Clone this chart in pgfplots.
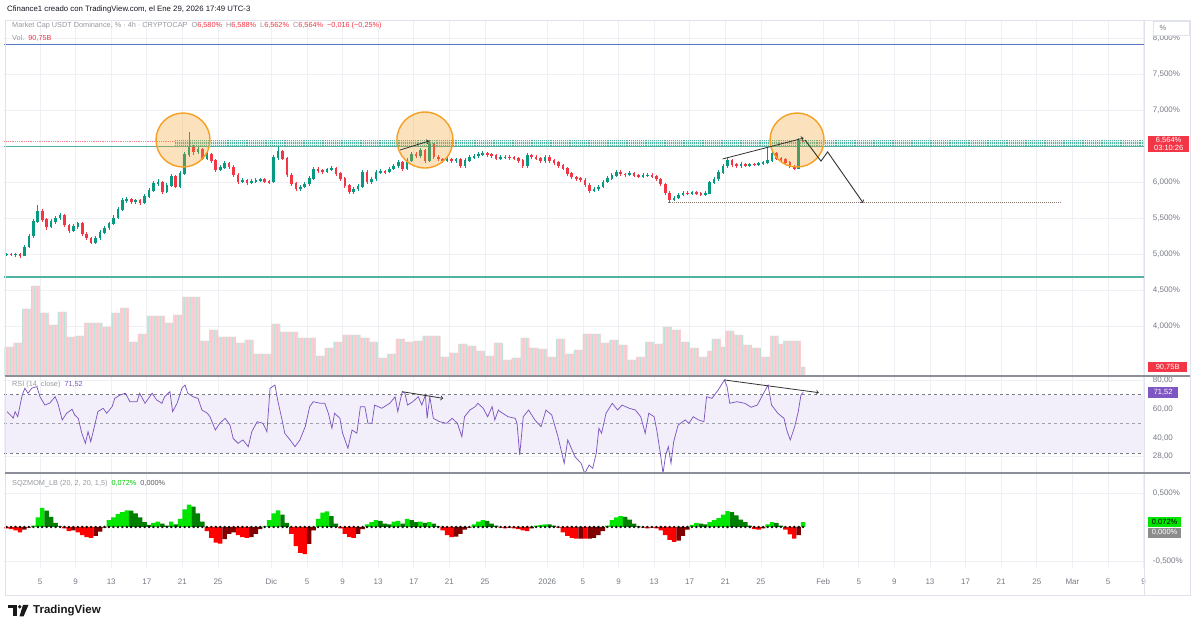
\documentclass[border=0pt]{standalone}
\usepackage{fontspec}
\setmainfont{Liberation Sans}
\usepackage{pgfplots}
\pgfplotsset{compat=1.18}
\usepackage{pgfplotstable}
\usetikzlibrary{patterns.meta}

\definecolor{tvup}{RGB}{8,153,129}
\definecolor{tvdn}{RGB}{242,54,69}
\definecolor{tvgray}{RGB}{120,123,134}
\definecolor{hgray}{RGB}{150,153,160}
\definecolor{gridc}{RGB}{238,240,246}
\definecolor{framec}{RGB}{224,227,235}
\definecolor{rsip}{RGB}{126,87,194}
\definecolor{rsiband}{RGB}{243,239,250}
\definecolor{sqlime}{RGB}{0,230,0}
\definecolor{sqgreen}{RGB}{0,128,0}
\definecolor{sqred}{RGB}{255,0,0}
\definecolor{sqmaroon}{RGB}{128,0,0}
\definecolor{zoneteal}{RGB}{80,178,160}
\definecolor{orng}{RGB}{245,160,35}
\definecolor{volpink}{RGB}{250,206,210}
\definecolor{volteal}{RGB}{188,226,220}
\definecolor{lineblue}{RGB}{91,120,200}
\definecolor{dotbrown}{RGB}{140,120,110}
\definecolor{sepc}{RGB}{140,143,152}

\pgfplotstableread{
t o h l c
0 4.99 5.02 4.97 5.00
0.5 5.00 5.02 4.97 4.99
1.0 4.99 5.02 4.96 5.00
1.5 5.00 5.01 4.95 4.98
2.0 4.98 5.13 4.97 5.10
2.5 5.10 5.28 5.08 5.25
3.0 5.25 5.48 5.22 5.45
3.5 5.45 5.68 5.43 5.60
4.0 5.60 5.62 5.45 5.48
4.5 5.48 5.50 5.34 5.38
5.0 5.38 5.48 5.36 5.45
5.5 5.45 5.53 5.42 5.50
6.0 5.50 5.57 5.47 5.54
6.5 5.54 5.56 5.37 5.40
7.0 5.40 5.42 5.29 5.32
7.5 5.32 5.41 5.30 5.38
8.0 5.38 5.45 5.35 5.42
8.5 5.42 5.44 5.25 5.28
9.0 5.28 5.30 5.19 5.22
9.5 5.22 5.24 5.14 5.16
10.0 5.16 5.25 5.14 5.22
10.5 5.22 5.33 5.20 5.30
11.0 5.30 5.39 5.28 5.36
11.5 5.36 5.45 5.33 5.42
12.0 5.42 5.54 5.40 5.50
12.5 5.50 5.65 5.48 5.62
13.0 5.62 5.78 5.60 5.74
13.5 5.74 5.79 5.71 5.76
14.0 5.76 5.78 5.70 5.73
14.5 5.73 5.77 5.70 5.74
15.0 5.74 5.76 5.68 5.71
15.5 5.71 5.83 5.69 5.80
16.0 5.80 5.91 5.78 5.88
16.5 5.88 6.01 5.86 5.98
17.0 5.98 6.04 5.95 6.00
17.5 6.00 6.02 5.84 5.87
18.0 5.87 5.98 5.85 5.95
18.5 5.95 6.11 5.93 6.08
19.0 6.08 6.10 5.91 5.94
19.5 5.94 6.15 5.92 6.12
20.0 6.12 6.42 6.10 6.38
20.5 6.38 6.69 6.35 6.48
21.0 6.48 6.52 6.38 6.42
21.5 6.42 6.49 6.39 6.45
22.0 6.45 6.47 6.30 6.33
22.5 6.33 6.41 6.31 6.38
23.0 6.38 6.40 6.27 6.30
23.5 6.30 6.32 6.14 6.17
24.0 6.17 6.23 6.15 6.20
24.5 6.20 6.29 6.18 6.26
25.0 6.26 6.28 6.18 6.21
25.5 6.21 6.23 6.07 6.10
26.0 6.10 6.12 5.97 6.00
26.5 6.00 6.05 5.98 6.02
27.0 6.02 6.04 5.96 5.99
27.5 5.99 6.04 5.97 6.01
28.0 6.01 6.05 5.99 6.02
28.5 6.02 6.06 6.00 6.04
29.0 6.04 6.05 5.98 6.01
29.5 6.01 6.03 5.97 6.00
30.0 6.00 6.37 5.99 6.34
30.5 6.34 6.49 6.31 6.42
31.0 6.42 6.44 6.30 6.33
31.5 6.33 6.35 6.07 6.10
32.0 6.10 6.12 5.95 5.98
32.5 5.98 6.00 5.87 5.90
33.0 5.90 5.96 5.88 5.93
33.5 5.93 6.00 5.91 5.97
34.0 5.97 6.08 5.95 6.05
34.5 6.05 6.21 6.03 6.18
35.0 6.18 6.21 6.13 6.16
35.5 6.16 6.18 6.11 6.14
36.0 6.14 6.20 6.12 6.17
36.5 6.17 6.22 6.15 6.19
37.0 6.19 6.21 6.09 6.12
37.5 6.12 6.14 6.02 6.05
38.0 6.05 6.07 5.92 5.95
38.5 5.95 5.97 5.83 5.86
39.0 5.86 5.93 5.84 5.90
39.5 5.90 5.97 5.88 5.94
40.0 5.94 6.17 5.92 6.14
40.5 6.14 6.16 5.97 6.00
41.0 6.00 6.07 5.97 6.04
41.5 6.04 6.16 6.02 6.13
42.0 6.13 6.18 6.11 6.15
42.5 6.15 6.17 6.11 6.14
43.0 6.14 6.21 6.12 6.18
43.5 6.18 6.25 6.16 6.22
44.0 6.22 6.30 6.20 6.27
44.5 6.27 6.29 6.15 6.18
45.0 6.18 6.33 6.16 6.30
45.5 6.30 6.42 6.28 6.39
46.0 6.39 6.41 6.33 6.36
46.5 6.36 6.47 6.34 6.44
47.0 6.44 6.46 6.26 6.30
47.5 6.30 6.58 6.28 6.52
48.0 6.52 6.54 6.32 6.35
48.5 6.35 6.37 6.29 6.32
49.0 6.32 6.34 6.27 6.30
49.5 6.30 6.35 6.28 6.32
50.0 6.32 6.34 6.26 6.29
50.5 6.29 6.34 6.27 6.31
51.0 6.31 6.33 6.19 6.22
51.5 6.22 6.33 6.20 6.30
52.0 6.30 6.37 6.28 6.34
52.5 6.34 6.39 6.32 6.36
53.0 6.36 6.41 6.34 6.38
53.5 6.38 6.43 6.36 6.40
54.0 6.40 6.42 6.35 6.38
54.5 6.38 6.40 6.34 6.37
55.0 6.37 6.39 6.30 6.33
55.5 6.33 6.37 6.31 6.34
56.0 6.34 6.38 6.32 6.35
56.5 6.35 6.37 6.31 6.34
57.0 6.34 6.36 6.30 6.33
57.5 6.33 6.35 6.27 6.30
58.0 6.30 6.32 6.19 6.22
58.5 6.22 6.40 6.20 6.37
59.0 6.37 6.39 6.32 6.35
59.5 6.35 6.37 6.30 6.33
60.0 6.33 6.35 6.26 6.29
60.5 6.29 6.38 6.27 6.35
61.0 6.35 6.37 6.27 6.30
61.5 6.30 6.32 6.24 6.27
62.0 6.27 6.29 6.20 6.23
62.5 6.23 6.25 6.16 6.19
63.0 6.19 6.21 6.09 6.12
63.5 6.12 6.14 6.04 6.07
64.0 6.07 6.09 6.02 6.05
64.5 6.05 6.07 6.00 6.03
65.0 6.03 6.05 5.93 5.96
65.5 5.96 5.98 5.85 5.88
66.0 5.88 5.93 5.86 5.90
66.5 5.90 5.96 5.88 5.93
67.0 5.93 6.03 5.91 6.00
67.5 6.00 6.08 5.98 6.05
68.0 6.05 6.12 6.03 6.09
68.5 6.09 6.17 6.07 6.14
69.0 6.14 6.16 6.08 6.11
69.5 6.11 6.13 6.07 6.10
70.0 6.10 6.15 6.08 6.12
70.5 6.12 6.14 6.07 6.09
71.0 6.09 6.11 6.06 6.08
71.5 6.08 6.12 6.06 6.10
72.0 6.10 6.12 6.07 6.10
72.5 6.10 6.12 6.06 6.08
73.0 6.08 6.10 6.01 6.04
73.5 6.04 6.06 5.94 5.97
74.0 5.97 5.99 5.82 5.85
74.5 5.85 5.87 5.71 5.75
75.0 5.75 5.81 5.73 5.78
75.5 5.78 5.85 5.76 5.82
76.0 5.82 5.88 5.80 5.85
76.5 5.85 5.87 5.82 5.84
77.0 5.84 5.88 5.82 5.86
77.5 5.86 5.87 5.82 5.84
78.0 5.84 5.86 5.81 5.83
78.5 5.83 5.87 5.81 5.84
79.0 5.84 6.02 5.83 5.99
79.5 5.99 6.07 5.97 6.04
80.0 6.04 6.16 6.02 6.13
80.5 6.13 6.25 6.11 6.22
81.0 6.22 6.33 6.20 6.30
81.5 6.30 6.32 6.21 6.24
82.0 6.24 6.26 6.19 6.22
82.5 6.22 6.28 6.20 6.25
83.0 6.25 6.27 6.21 6.23
83.5 6.23 6.27 6.21 6.25
84.0 6.25 6.27 6.22 6.24
84.5 6.24 6.28 6.22 6.26
85.0 6.26 6.29 6.24 6.27
85.5 6.27 6.47 6.25 6.30
86.0 6.30 6.43 6.28 6.40
86.5 6.40 6.42 6.30 6.33
87.0 6.33 6.35 6.28 6.31
87.5 6.31 6.33 6.24 6.27
88.0 6.27 6.29 6.19 6.22
88.5 6.22 6.24 6.16 6.19
89.0 6.19 6.61 6.18 6.580
89.5 6.580 6.588 6.562 6.564
}\candles

\pgfplotstableread{
t v
0 290
1 330
2 670
3 900
4 630
5 510
6 640
7 390
8 400
9 530
10 530
11 490
12 630
13 680
14 340
15 420
16 600
18 530
19 610
20 790
22 350
23 460
24 390
26 330
27 360
28 220
30 520
31 440
33 380
35 200
36 280
37 340
38 410
40 380
41 340
42 180
43 220
44 370
45 340
46 350
47 400
49 190
50 230
51 320
52 300
53 250
54 200
55 330
56 160
57 180
58 380
59 280
60 270
61 190
62 370
63 220
64 260
65 420
67 330
68 360
69 310
70 160
71 190
72 340
73 320
74 490
75 460
76 340
77 280
78 190
79 250
79.5 370
80.5 290
81 450
82 410
83 310
84 280
85 190
86 400
87 320
87.5 350
88.5 350
89.5 90.75
90 90.75
}\vol

\pgfplotstableread{
t v
0.3 58.3
1.0 53.9
1.2 58.3
1.5 54.8
2.0 69.7
2.3 74.3
2.65 70.9
3.1 74.5
3.65 75.4
4.0 68.5
4.55 62.8
5.1 64.2
5.7 68.5
6.0 64.2
6.5 52.6
7.0 57.2
7.6 59.9
7.9 56.0
8.3 53.7
8.7 43.5
9.1 36.6
9.4 44.6
9.7 37.7
10.2 50.3
10.5 58.3
11.1 60.6
11.5 57.2
12.1 61.7
12.4 67.4
13.0 69.7
13.6 70.9
14.1 65.1
14.9 65.1
15.2 70.9
15.8 64.0
16.6 70.9
17.1 66.3
17.7 64.0
18.0 68.5
18.6 72.0
18.9 58.3
19.4 64.0
19.95 74.3
20.3 76.5
20.6 70.9
21.2 68.5
21.75 67.4
22.2 59.4
22.8 57.2
23.1 54.8
23.7 45.7
24.2 50.3
24.8 53.7
25.35 49.1
25.7 40.0
26.25 36.6
26.8 38.9
27.4 34.3
27.8 44.6
28.4 51.4
29.05 50.3
29.5 44.6
29.85 74.3
30.4 76.5
30.7 66.3
31.2 52.6
31.5 43.5
32.1 38.9
32.65 34.3
33.2 38.9
33.8 48.0
34.3 61.7
34.7 65.1
35.5 64.0
36.0 64.0
36.4 57.2
36.8 46.9
37.1 57.2
37.7 53.7
38.0 43.5
38.6 33.2
39.06 45.7
39.6 43.5
40.0 61.7
40.5 61.7
40.85 50.3
41.3 50.3
41.6 62.8
42.4 60.6
43.3 64.0
43.9 68.5
44.2 58.3
44.7 72.0
45.0 70.9
45.3 62.8
45.9 65.1
46.5 68.5
46.9 62.8
47.3 69.7
47.5 53.7
47.8 68.5
48.2 53.7
48.9 51.4
49.7 50.3
50.3 53.7
50.9 50.3
51.4 41.1
51.7 54.8
52.3 59.4
52.9 61.7
53.2 64.0
53.8 60.6
54.3 54.8
54.8 61.7
55.1 52.6
55.5 59.4
55.7 58.3
56.6 54.8
57.4 53.7
57.6 50.3
57.9 28.6
58.3 54.8
58.9 59.4
59.6 52.6
60.3 48.0
60.85 59.4
61.5 56.0
62.2 41.1
62.9 22.9
63.3 38.9
64.1 27.5
64.8 22.9
65.2 16.0
65.7 21.7
66.1 19.5
66.5 29.8
66.8 46.9
67.1 43.5
67.6 57.2
68.3 64.0
68.9 59.4
69.4 62.8
70.2 60.6
70.9 59.4
71.5 54.8
72.0 43.5
72.4 57.2
73.0 54.8
73.3 45.7
73.7 29.8
74.0 16.0
74.3 28.6
74.6 34.3
74.9 22.9
75.2 37.7
75.7 49.1
76.5 52.6
76.9 50.3
77.4 54.8
78.0 52.6
78.6 51.4
78.9 68.5
79.5 67.4
80.2 73.1
80.9 80.0
81.2 75.4
81.5 64.0
82.3 65.1
83.2 64.0
83.9 61.3
84.6 62.8
85.2 69.7
85.8 76.5
86.2 62.8
86.9 57.2
87.6 53.7
87.9 45.7
88.3 38.9
88.8 48.0
89.2 58.3
89.5 69.7
89.75 71.52
}\rsi

\pgfplotstableread{
t v c
0 -0.02 3
0.5 -0.03 3
1.0 -0.05 3
1.5 -0.08 3
2.0 -0.04 4
2.5 -0.01 4
3.0 0.02 1
3.5 0.14 1
4.0 0.28 1
4.5 0.24 2
5.0 0.15 2
5.5 0.06 2
6.0 0.01 2
6.5 -0.02 3
7.0 -0.06 3
7.5 -0.05 4
8.0 -0.08 3
8.5 -0.12 3
9.0 -0.15 3
9.5 -0.16 3
10.0 -0.13 4
10.5 -0.07 4
11.0 -0.01 4
11.5 0.10 1
12.0 0.14 1
12.5 0.19 1
13.0 0.22 1
13.5 0.245 1
14.0 0.24 2
14.5 0.20 2
15.0 0.14 2
15.5 0.07 2
16.0 0.03 2
16.5 0.06 1
17.0 0.08 1
17.5 0.05 2
18.0 0.02 2
18.5 0.08 1
19.0 0.04 2
19.5 0.12 1
20.0 0.26 1
20.5 0.33 1
21.0 0.30 2
21.5 0.20 2
22.0 0.08 2
22.5 -0.06 3
23.0 -0.16 3
23.5 -0.23 3
24.0 -0.245 3
24.5 -0.18 4
25.0 -0.10 4
25.5 -0.08 4
26.0 -0.12 3
26.5 -0.15 3
27.0 -0.16 3
27.5 -0.15 4
28.0 -0.10 4
28.5 -0.03 4
29.0 0.01 1
29.5 0.10 1
30.0 0.20 1
30.5 0.245 1
31.0 0.18 2
31.5 0.06 2
32.0 -0.10 3
32.5 -0.28 3
33.0 -0.38 3
33.5 -0.40 3
34.0 -0.25 4
34.5 -0.05 4
35.0 0.12 1
35.5 0.21 1
36.0 0.23 1
36.5 0.16 2
37.0 0.05 2
37.5 -0.02 3
38.0 -0.10 3
38.5 -0.15 3
39.0 -0.16 3
39.5 -0.10 4
40.0 -0.03 4
40.5 0.04 1
41.0 0.07 1
41.5 0.10 1
42.0 0.09 2
42.5 0.05 2
43.0 0.04 2
43.5 0.08 1
44.0 0.09 1
44.5 0.05 2
45.0 0.12 1
45.5 0.10 2
46.0 0.07 2
46.5 0.08 1
47.0 0.06 2
47.5 0.07 1
48.0 0.05 2
48.5 0.01 2
49.0 -0.05 3
49.5 -0.12 3
50.0 -0.15 3
50.5 -0.14 4
51.0 -0.10 4
51.5 -0.04 4
52.0 -0.01 4
52.5 0.04 1
53.0 0.08 1
53.5 0.10 1
54.0 0.09 2
54.5 0.05 2
55.0 0.02 2
55.5 -0.01 3
56.0 -0.02 3
56.5 -0.01 4
57.0 -0.02 3
57.5 -0.03 3
58.0 -0.05 3
58.5 -0.06 3
59.0 -0.02 4
59.5 0.02 1
60.0 0.03 1
60.5 0.04 1
61.0 0.04 2
61.5 0.02 2
62.0 -0.01 3
62.5 -0.08 3
63.0 -0.13 3
63.5 -0.16 3
64.0 -0.17 3
64.5 -0.17 4
65.0 -0.17 3
65.5 -0.17 4
66.0 -0.16 4
66.5 -0.12 4
67.0 -0.06 4
67.5 0.02 1
68.0 0.10 1
68.5 0.14 1
69.0 0.16 1
69.5 0.15 2
70.0 0.11 2
70.5 0.05 2
71.0 0.01 2
71.5 -0.01 3
72.0 -0.02 3
72.5 -0.01 4
73.0 -0.02 3
73.5 -0.05 3
74.0 -0.12 3
74.5 -0.19 3
75.0 -0.22 3
75.5 -0.20 4
76.0 -0.13 4
76.5 -0.04 4
77.0 0.03 1
77.5 0.06 1
78.0 0.05 2
78.5 0.04 2
79.0 0.07 1
79.5 0.10 1
80.0 0.13 1
80.5 0.18 1
81.0 0.235 1
81.5 0.22 2
82.0 0.17 2
82.5 0.11 2
83.0 0.07 2
83.5 0.02 2
84.0 -0.03 3
84.5 -0.04 3
85.0 -0.02 4
85.5 0.04 1
86.0 0.07 1
86.5 0.06 2
87.0 0.02 2
87.5 -0.04 3
88.0 -0.11 3
88.5 -0.17 3
89.0 -0.12 4
89.5 0.072 1
}\sqz

\tikzset{
  lbl/.style={anchor=west, xshift=3.6pt, inner sep=1.4pt, font=\fontsize{7.5}{8.5}\selectfont, minimum height=10.5pt},
}
\pgfplotsset{
  tvax/.style={
    scale only axis, width=1140pt, xmin=0, xmax=128.0899,
    anchor=south west, axis line style={draw=none},
    major tick length=0pt,
    xtick={4,8,12,16,20,24,30,34,38,42,46,50,54,61,65,69,73,77,81,85,92,96,100,104,108,112,116,120,124,128},
    xmajorgrids,
    major grid style={draw=gridc, line width=0.7pt},
    clip mode=individual,
    /pgf/number format/assume math mode=true,
    ticklabel style={font=\fontsize{8}{9}\selectfont, text=tvgray},
    yticklabel pos=right,
    yticklabel style={anchor=west, xshift=5pt},
    xticklabels={,,},
    scaled y ticks=false,
  },
}

\begin{document}
\begin{tikzpicture}[x=1pt,y=1pt]
\useasboundingbox (0,0) rectangle (1200,631);
\fill[white] (0,0) rectangle (1200,631);

% ---------- main price panel ----------
\begin{axis}[tvax, at={(4.4pt,255pt)}, height=356pt,
  ymin=3.3056, ymax=8.25,
  ytick={4,4.5,5,5.5,6,7,7.5,8}, ymajorgrids,
  yticklabel={\pgfmathprintnumber[fixed,fixed zerofill,precision=3,use comma]{\tick}\%}]
  % horizontal drawings
  \draw[lineblue, line width=1pt] (axis cs:0,7.903) -- (axis cs:128.0899,7.903);
  \draw[zoneteal, line width=1.2pt] (axis cs:0,4.681) -- (axis cs:128.0899,4.681);
  \draw[zoneteal, line width=1.2pt] (axis cs:0,6.49) -- (axis cs:128.0899,6.49);
  \draw[tvdn!60, densely dotted, line width=0.8pt] (axis cs:0,6.564) -- (axis cs:19.2,6.564);
  \fill[zoneteal, opacity=0.18] (axis cs:19.2,6.507) rectangle (axis cs:128.0899,6.576);
  \draw[zoneteal, densely dotted, line width=0.9pt] (axis cs:19.2,6.507) -- (axis cs:128.0899,6.507);
  \draw[zoneteal, densely dotted, line width=0.9pt] (axis cs:19.2,6.530) -- (axis cs:128.0899,6.530);
  \draw[zoneteal, densely dotted, line width=0.9pt] (axis cs:19.2,6.553) -- (axis cs:128.0899,6.553);
  \draw[zoneteal, densely dotted, line width=0.9pt] (axis cs:19.2,6.576) -- (axis cs:128.0899,6.576);
  \draw[dotbrown, densely dotted, line width=1pt] (axis cs:74.6,5.71) -- (axis cs:118.8,5.71);
  % candles: wicks
  \addplot[draw=none, mark=none, forget plot,
    error bars/.cd, y dir=both, y explicit, error mark=none,
    error bar style={draw=tvup, line width=0.7pt}]
    table[x expr={\thisrow{c}>=\thisrow{o} ? \thisrow{t}+0.25 : nan},
          y expr={(\thisrow{h}+\thisrow{l})/2},
          y error expr={(\thisrow{h}-\thisrow{l})/2}] {\candles};
  \addplot[draw=none, mark=none, forget plot,
    error bars/.cd, y dir=both, y explicit, error mark=none,
    error bar style={draw=tvdn, line width=0.7pt}]
    table[x expr={\thisrow{c}<\thisrow{o} ? \thisrow{t}+0.25 : nan},
          y expr={(\thisrow{h}+\thisrow{l})/2},
          y error expr={(\thisrow{h}-\thisrow{l})/2}] {\candles};
  % candles: bodies
  \addplot[draw=none, mark=none, forget plot,
    error bars/.cd, y dir=both, y explicit, error mark=none,
    error bar style={draw=tvup, line width=2.6pt}]
    table[x expr={\thisrow{c}>=\thisrow{o} ? \thisrow{t}+0.25 : nan},
          y expr={(\thisrow{o}+\thisrow{c})/2},
          y error expr={abs(\thisrow{c}-\thisrow{o})/2+0.004}] {\candles};
  \addplot[draw=none, mark=none, forget plot,
    error bars/.cd, y dir=both, y explicit, error mark=none,
    error bar style={draw=tvdn, line width=2.6pt}]
    table[x expr={\thisrow{c}<\thisrow{o} ? \thisrow{t}+0.25 : nan},
          y expr={(\thisrow{o}+\thisrow{c})/2},
          y error expr={abs(\thisrow{c}-\thisrow{o})/2+0.004}] {\candles};
  % circles
  \draw[orng, line width=1.4pt, fill=orng, fill opacity=0.3] (axis cs:20.07,6.583) circle[radius=27pt];
  \draw[orng, line width=1.4pt, fill=orng, fill opacity=0.3] (axis cs:47.25,6.583) circle[radius=28pt];
  \draw[orng, line width=1.4pt, fill=orng, fill opacity=0.3] (axis cs:89.06,6.583) circle[radius=27pt];
  % arrows
  \draw[black!80, line width=0.8pt, ->] (axis cs:44.45,6.444) -- (axis cs:47.7,6.569);
  \draw[black!80, line width=0.8pt, ->] (axis cs:80.7,6.32) -- (axis cs:89.8,6.61);
  \draw[black!80, line width=0.9pt, ->] (axis cs:89.96,6.583) -- (axis cs:91.75,6.29) -- (axis cs:92.5,6.417) -- (axis cs:96.5,5.708);
  % last price label
  \node[lbl, anchor=north west, yshift=5.4pt, fill=tvdn, text=white, align=center, minimum width=41pt]
    at (axis cs:128.0899,6.564) {6,564\%\\[-1pt]03:10:26};
\end{axis}

% ---------- volume overlay ----------
\begin{axis}[tvax, at={(4.4pt,255pt)}, height=356pt, hide axis,
  ymin=0, ymax=3560]
  \addplot[ybar interval, fill=volteal, draw=none, forget plot,
    postaction={pattern={Lines[angle=90,distance=3pt,line width=1.6pt]}, pattern color=volpink}]
    table[x=t, y=v] {\vol};
  \node[lbl, fill=tvdn, text=white, minimum width=39pt] at (axis cs:128.0899,90.75) {90,75B};
\end{axis}

% ---------- RSI panel ----------
\begin{axis}[tvax, at={(4.4pt,158pt)}, height=97pt,
  ymin=16.27, ymax=82.71,
  ytick={28,40,60,80}, ymajorgrids,
  yticklabel={\pgfmathprintnumber[fixed,fixed zerofill,precision=2,use comma]{\tick}}]
  \fill[rsiband] (axis cs:0,30) rectangle (axis cs:128.0899,70);
  \draw[tvgray, dash pattern=on 3pt off 3pt, line width=0.7pt] (axis cs:0,70) -- (axis cs:128.0899,70);
  \draw[tvgray!70, dash pattern=on 3pt off 3pt, line width=0.6pt] (axis cs:0,50) -- (axis cs:128.0899,50);
  \draw[tvgray, dash pattern=on 3pt off 3pt, line width=0.7pt] (axis cs:0,30) -- (axis cs:128.0899,30);
  \addplot[rsip, line width=0.75pt, mark=none] table[x=t, y=v] {\rsi};
  \draw[black!80, line width=0.8pt, ->] (axis cs:44.7,71.95) -- (axis cs:49.3,67.4);
  \draw[black!80, line width=0.8pt, ->] (axis cs:80.9,80.0) -- (axis cs:91.5,71.3);
  \node[lbl, fill=rsip, text=white, minimum width=30pt] at (axis cs:128.0899,71.52) {71,52};
\end{axis}

% ---------- SQZMOM panel ----------
\begin{axis}[tvax, at={(4.4pt,63pt)}, height=95pt,
  ymin=-0.603, ymax=0.794,
  ytick={-0.5,0.5}, ymajorgrids,
  yticklabel={\pgfmathprintnumber[fixed,fixed zerofill,precision=3,use comma]{\tick}\%},
  xticklabels={5,9,13,17,21,25,Dic,5,9,13,17,21,25,2026,5,9,13,17,21,25,Feb,5,9,13,17,21,25,Mar,5,9},
  xticklabel style={anchor=center, yshift=-14pt}]
  \addplot[ybar, bar width=0.5, bar shift=0pt, fill=sqlime, draw=none, forget plot]
    table[x expr={\thisrow{t}+0.25}, y expr={\thisrow{c}==1 ? \thisrow{v} : nan}] {\sqz};
  \addplot[ybar, bar width=0.5, bar shift=0pt, fill=sqgreen, draw=none, forget plot]
    table[x expr={\thisrow{t}+0.25}, y expr={\thisrow{c}==2 ? \thisrow{v} : nan}] {\sqz};
  \addplot[ybar, bar width=0.5, bar shift=0pt, fill=sqred, draw=none, forget plot]
    table[x expr={\thisrow{t}+0.25}, y expr={\thisrow{c}==3 ? \thisrow{v} : nan}] {\sqz};
  \addplot[ybar, bar width=0.5, bar shift=0pt, fill=sqmaroon, draw=none, forget plot]
    table[x expr={\thisrow{t}+0.25}, y expr={\thisrow{c}==4 ? \thisrow{v} : nan}] {\sqz};
  \addplot[only marks, mark=*, mark size=1pt, mark options={fill=black!85, draw=none}, forget plot]
    table[x expr={\thisrow{t}+0.25}, y expr=0] {\sqz};
  \node[lbl, fill=sqlime, text=black, minimum width=33pt] at (axis cs:128.0899,0.072) {0,072\%};
  \node[lbl, anchor=north west, yshift=-5.3pt, fill=gray!90, text=white, minimum width=33pt] at (axis cs:128.0899,0.072) {0,000\%};
\end{axis}

% ---------- frame & separators ----------
\draw[framec, line width=0.8pt] (5,36) rectangle (1190,611);
\draw[framec, line width=0.8pt] (1144.4,36) -- (1144.4,611);
\draw[sepc, line width=1.8pt] (5,255) -- (1190,255);
\draw[sepc, line width=1.8pt] (5,158) -- (1190,158);
\draw[framec, fill=white] (1153,596) rectangle (1189,610);
\node[font=\fontsize{7.5}{8}\selectfont, text=tvgray] at (1163,603) {\%};

% ---------- texts ----------
\node[anchor=west, inner sep=0pt, font=\fontsize{7.8}{9}\selectfont, text={rgb,255:red,19;green,23;blue,34}] at (7,622)
  {Cfinance1 creado con TradingView.com, el Ene 29, 2026 17:49 UTC-3};
\node[anchor=west, inner sep=0pt, font=\fontsize{7.3}{9}\selectfont] at (12,605)
  {\color{hgray}Market Cap USDT Dominance, \% · 4h · CRYPTOCAP\ \ O\color{tvdn}6,580\%\ \ \color{hgray}H\color{tvdn}6,588\%\ \ \color{hgray}L\color{tvdn}6,562\%\ \ \color{hgray}C\color{tvdn}6,564\%\ \ −0,016 (−0,25\%)};
\node[anchor=west, inner sep=0pt, font=\fontsize{7.3}{9}\selectfont] at (12,593)
  {\color{hgray}Vol.\ \ \color{tvdn}90,75B};
\node[anchor=west, inner sep=0pt, font=\fontsize{7.3}{9}\selectfont] at (12,246)
  {\color{hgray}RSI (14, close)\ \ \color{rsip}71,52};
\node[anchor=west, inner sep=0pt, font=\fontsize{7.3}{9}\selectfont] at (12,147)
  {\color{hgray}SQZMOM\_LB (20, 2, 20, 1,5)\ \ \color[RGB]{0,200,0}0,072\%\ \ \color[RGB]{90,90,90}0,000\%};

% TradingView logo
\fill[black!90] (8,26) rectangle (17,22.5);
\fill[black!90] (12.5,22.5) rectangle (16.5,14.5);
\fill[black!90] (19.8,24.2) circle[radius=1.9];
\fill[black!90] (23,26) -- (28.5,26) -- (23.5,14.5) -- (19.5,14.5) -- cycle;
\node[anchor=west, inner sep=0pt, font=\fontsize{11.5}{13}\selectfont\bfseries, text=black!90] at (33,20.5) {TradingView};
\end{tikzpicture}
\end{document}
